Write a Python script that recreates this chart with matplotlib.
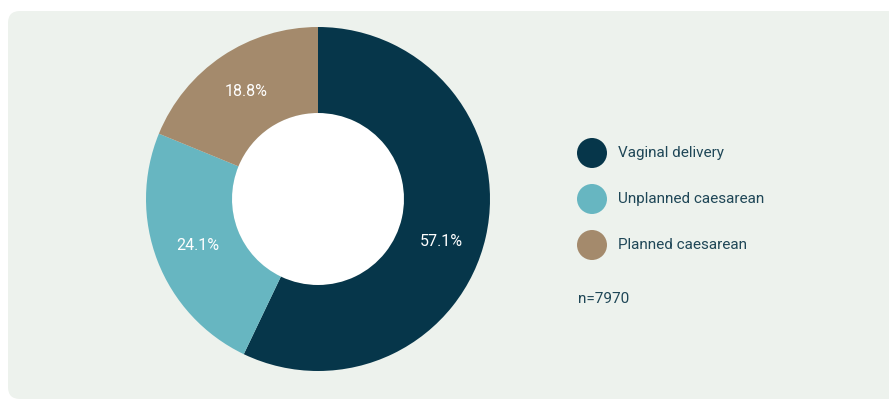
import matplotlib.pyplot as plt
from matplotlib.patches import FancyBboxPatch, Circle

plt.rcParams['font.family'] = ['Roboto', 'DejaVu Sans']

categories = ['Vaginal delivery', 'Unplanned caesarean', 'Planned caesarean']
shares = [57.1, 24.1, 18.8]
colors = ['#06364A', '#67B6C1', '#A48A6C']
n_label = 'n=7970'

BG = '#EDF2ED'
TEXT = '#1F4757'

fig = plt.figure(figsize=(8.89, 4), dpi=100)
ax = fig.add_axes([0, 0, 1, 1])

# panel background
ax.add_patch(FancyBboxPatch((8, 1), 920, 388, boxstyle='round,pad=0,rounding_size=12',
                            facecolor=BG, edgecolor='none', zorder=0))

wedges, _, autotexts = ax.pie(
    shares, colors=colors, startangle=90, counterclock=False,
    center=(318, 201), radius=172, autopct='%.1f%%', pctdistance=0.75,
    wedgeprops=dict(width=86, edgecolor='none'), frame=True,
    textprops=dict(color='white', fontsize=11.5))
ax.set_xlim(0, 889)
ax.set_ylim(0, 400)
ax.set_aspect('equal')
ax.axis('off')
ax.add_patch(Circle((318, 201), 86, facecolor='white', edgecolor='none', zorder=0.5))

# the big slice's label sits a bit lower in the original
x0, y0 = autotexts[0].get_position()
autotexts[0].set_position((x0 - 2, y0 - 14))

# legend
for i, (lab, col) in enumerate(zip(categories, colors)):
    y = 400 - (153 + 46 * i)
    ax.add_patch(Circle((592, y), 15, facecolor=col, edgecolor='none'))
    ax.text(618, y, lab, fontsize=11, color=TEXT, va='center', ha='left')

ax.text(578, 400 - 299, n_label, fontsize=11, color=TEXT, va='center', ha='left')

fig.savefig('out.png', dpi=100, facecolor='white')
